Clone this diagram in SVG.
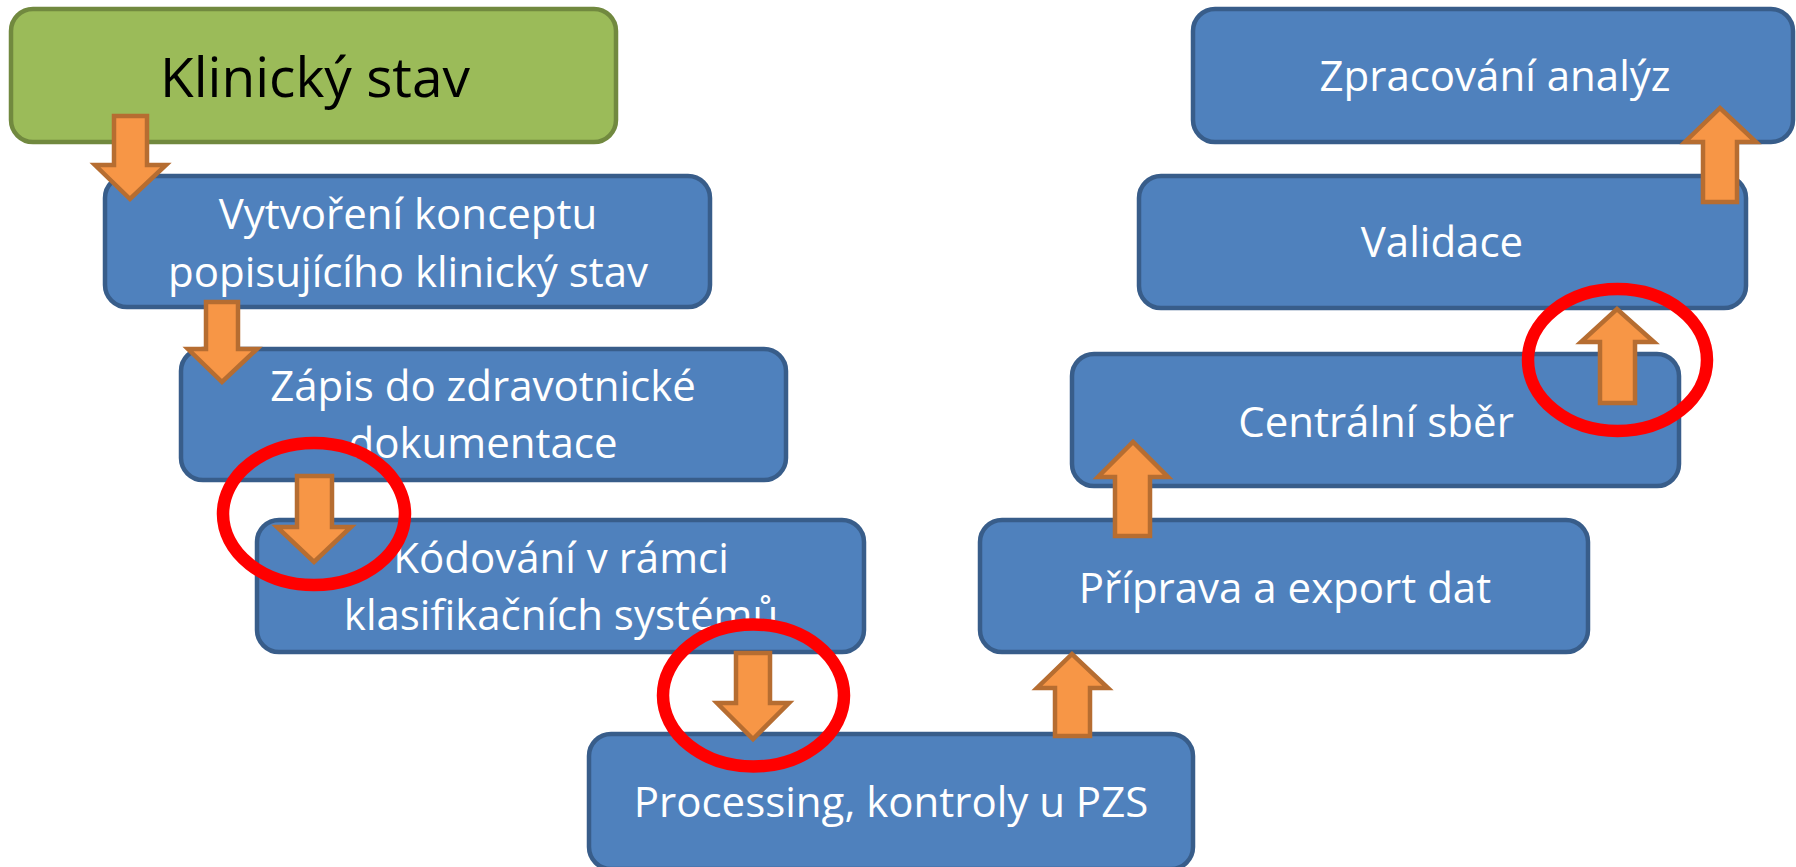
<svg xmlns="http://www.w3.org/2000/svg" width="1796" height="867" viewBox="0 0 1796 867">
<style>
.box{fill:#4F81BD;stroke:#385D8A;stroke-width:4.5}
.green{fill:#9BBB59;stroke:#71893F;stroke-width:4.5}
.t{font-family:"Open Sans",Lato,"DejaVu Sans",sans-serif;font-size:42px;fill:#FFFFFF;text-anchor:middle}
.tk{font-family:"Open Sans",Lato,"DejaVu Sans",sans-serif;font-size:55px;fill:#000000;text-anchor:middle}
.arr{fill:#F79646;stroke:#B66D31;stroke-width:4.5;stroke-linejoin:miter}
.ring{fill:none;stroke:#FF0000;stroke-width:12.5}
</style>
<rect width="1796" height="867" fill="#FFFFFF"/>
<g id="n-klinicky">
<rect class="green" x="11" y="9" width="605" height="133" rx="22"/>
<text class="tk" x="315" y="97">Klinický stav</text>
</g>
<g id="n-vytvoreni">
<rect class="box" x="105" y="176" width="605" height="131" rx="22"/>
<text class="t" x="408" y="229">Vytvoření konceptu</text>
<text class="t" x="408" y="287">popisujícího klinický stav</text>
</g>
<g id="n-zapis">
<rect class="box" x="181" y="349" width="605" height="131" rx="22"/>
<text class="t" x="483" y="401">Zápis do zdravotnické</text>
<text class="t" x="483" y="458">dokumentace</text>
</g>
<g id="n-kodovani">
<rect class="box" x="257" y="520" width="607" height="132" rx="22"/>
<text class="t" x="561" y="573">Kódování v rámci</text>
<text class="t" x="561" y="630">klasifikačních systémů</text>
</g>
<g id="n-processing">
<rect class="box" x="589" y="734" width="604" height="135" rx="22"/>
<text class="t" x="891" y="817">Processing, kontroly u PZS</text>
</g>
<g id="n-priprava">
<rect class="box" x="980" y="520" width="608" height="132" rx="22"/>
<text class="t" x="1285" y="603">Příprava a export dat</text>
</g>
<g id="n-centralni">
<rect class="box" x="1072" y="354" width="607" height="132" rx="22"/>
<text class="t" x="1376" y="437">Centrální sběr</text>
</g>
<g id="n-validace">
<rect class="box" x="1139" y="176" width="607" height="132" rx="22"/>
<text class="t" x="1442" y="257">Validace</text>
</g>
<g id="n-zpracovani">
<rect class="box" x="1193" y="9" width="600" height="133" rx="22"/>
<text class="t" x="1495" y="91">Zpracování analýz</text>
</g>
<g id="connectors">
<polygon class="arr" points="114,116 147,116 147,165 166,165 130,199 95,165 114,165"/>
<polygon class="arr" points="206,302 238,302 238,349 257,349 222,382 188,349 206,349"/>
<polygon class="arr" points="297,476 332,476 332,527 351,527 314,562 277,527 297,527"/>
<polygon class="arr" points="736,653 770,653 770,703 789,703 753,739 717,703 736,703"/>
<polygon class="arr" points="1055,736 1090,736 1090,688 1108,688 1072,654 1037,688 1055,688"/>
<polygon class="arr" points="1115,536 1150,536 1150,477 1168,477 1133,442 1098,477 1115,477"/>
<polygon class="arr" points="1600,403 1635,403 1635,342 1654,342 1617,309 1581,342 1600,342"/>
<polygon class="arr" points="1703,202 1737,202 1737,142 1756,142 1720,108 1685,142 1703,142"/>
</g>
<g id="highlights">
<ellipse class="ring" cx="314" cy="514" rx="91" ry="71"/>
<ellipse class="ring" cx="753.5" cy="695.5" rx="90.5" ry="71"/>
<ellipse class="ring" cx="1617.5" cy="360" rx="89.5" ry="71"/>
</g>
</svg>
